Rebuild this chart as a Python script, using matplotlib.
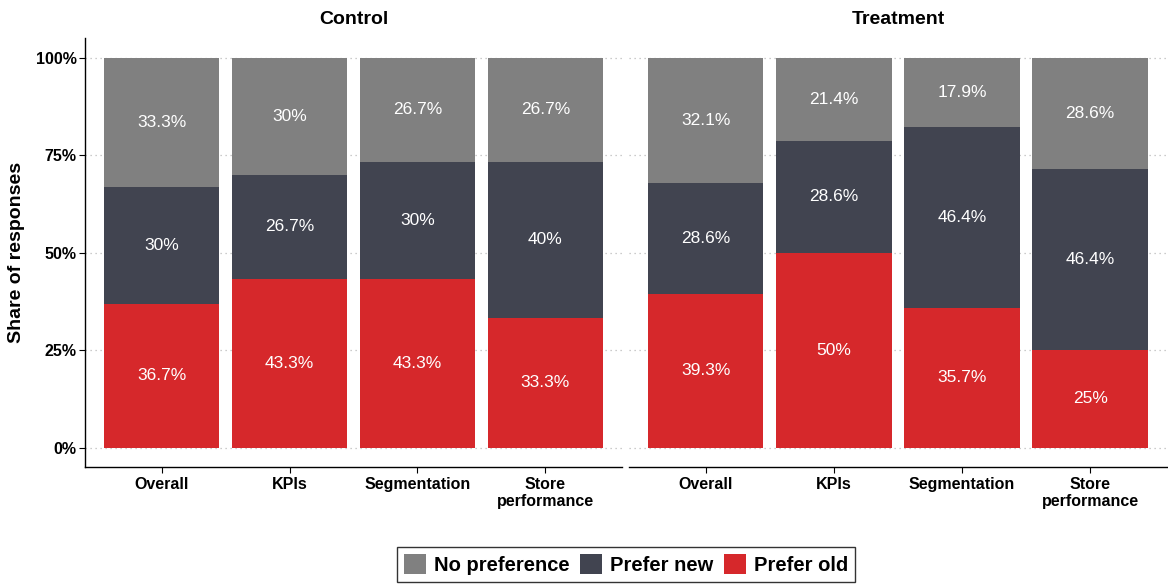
import matplotlib.pyplot as plt
import numpy as np
from matplotlib.patches import Patch

plt.rcParams['font.family'] = ['Liberation Sans', 'DejaVu Sans']

groups = ["Control", "Treatment"]
categories = ["Overall", "KPIs", "Segmentation", "Store\nperformance"]
responses = ["Prefer old", "Prefer new", "No preference"]

control_old = [36.7, 43.3, 43.3, 33.3]
control_new = [30, 26.7, 30, 40]
control_none = [33.3, 30, 26.7, 26.7]

treatment_old = [39.3, 50, 35.7, 25]
treatment_new = [28.6, 28.6, 46.4, 46.4]
treatment_none = [32.1, 21.4, 17.9, 28.6]

colors = {"Prefer old": "#D6282B", "Prefer new": "#414450", "No preference": "#808080"}

data = {
    "Control": [control_old, control_new, control_none],
    "Treatment": [treatment_old, treatment_new, treatment_none],
}

fig = plt.figure(figsize=(11.68, 5.86), dpi=100)
ax1 = fig.add_axes([0.0728, 0.203, 0.4598, 0.732])
ax2 = fig.add_axes([0.5385, 0.203, 0.4606, 0.732])

x = np.arange(len(categories)) + 1
yticks = [0, 25, 50, 75, 100]

for ax, g in zip([ax1, ax2], groups):
    bottom = np.zeros(len(categories))
    for name, vals in zip(responses, data[g]):
        vals = np.array(vals, dtype=float)
        ax.bar(x, vals, bottom=bottom, width=0.9, color=colors[name], zorder=2)
        for xi, b, v in zip(x, bottom, vals):
            ax.text(xi, b + v / 2, f"{v:g}%", ha="center", va="center",
                    color="white", fontsize=12.5, zorder=3)
        bottom = bottom + vals
    ax.set_xlim(0.4, 4.6)
    ax.set_ylim(-5, 105)
    for yt in yticks:
        ax.axhline(yt, color="#BBBBBB", lw=0.9, ls=(0, (1, 3)), zorder=1)
    ax.set_xticks(x)
    ax.set_xticklabels(categories, fontsize=11.5, fontweight="bold", linespacing=1.15)
    ax.tick_params(axis="x", length=4, width=0.8, pad=3)
    ax.set_title(g, fontsize=14, fontweight="bold", pad=10)
    for s in ["top", "right"]:
        ax.spines[s].set_visible(False)
    ax.spines["bottom"].set_linewidth(1.0)
    ax.spines["left"].set_linewidth(1.0)

ax1.set_yticks(yticks)
ax1.set_yticklabels([f"{t}%" for t in yticks], fontsize=11.5, fontweight="bold")
ax1.tick_params(axis="y", length=4, width=0.8, pad=2)
ax1.set_ylabel("Share of responses", fontsize=14, fontweight="bold", labelpad=8)

ax2.spines["left"].set_visible(False)
ax2.set_yticks([])

handles = [Patch(facecolor=colors[n], edgecolor="none") for n in ["No preference", "Prefer new", "Prefer old"]]
leg = fig.legend(handles, ["No preference", "Prefer new", "Prefer old"], loc="lower center",
                 bbox_to_anchor=(0.536, -0.01), ncol=3, frameon=True, fancybox=False,
                 prop={"weight": "bold", "size": 14.5}, handlelength=1.1, handleheight=1.1,
                 handletextpad=0.4, columnspacing=0.5, borderpad=0.35, edgecolor="black")
leg.get_frame().set_linewidth(1.0)

fig.savefig("out.png", dpi=100)
